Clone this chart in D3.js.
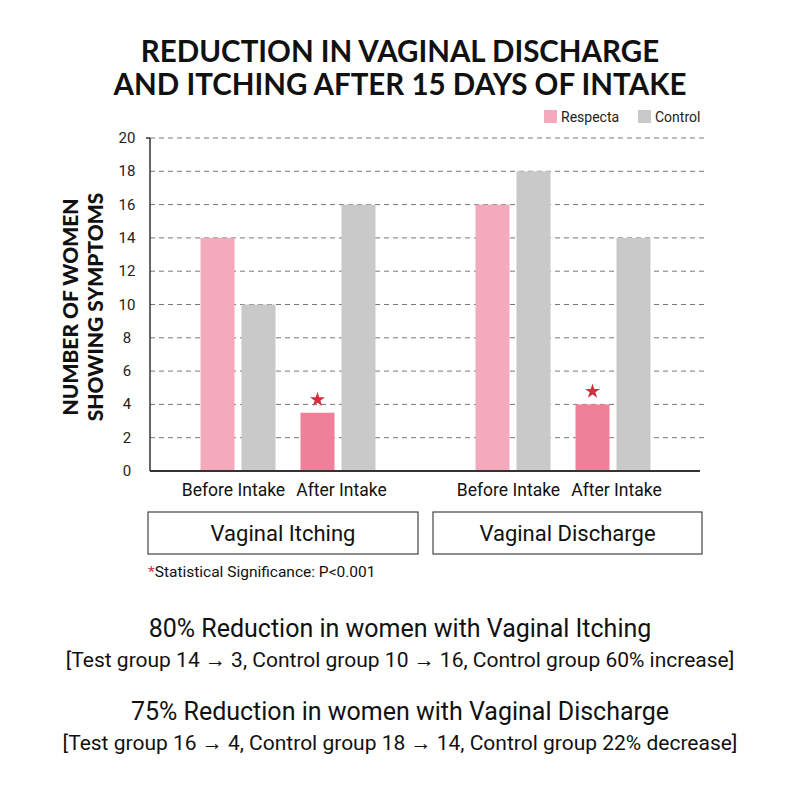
<!DOCTYPE html>
<html>
<head>
<meta charset="utf-8">
<script src="https://cdn.jsdelivr.net/npm/d3@7"></script>
<style>
  body { margin: 0; background: #fff; }
  svg { font-family: Roboto, "Noto Sans", sans-serif; }
</style>
</head>
<body>
<svg id="drawing_region"></svg>
<script>
// chart data
const groups = ["Vaginal Itching", "Vaginal Discharge"];
const periods = ["Before Intake", "After Intake"];
const series = ["Respecta", "Control"];
// values per group, in order [before, after]
const respectaItching = [14, 3.5];
const controlItching = [10, 16];
const respectaDischarge = [16, 4];
const controlDischarge = [18, 14];
const yTicks = [0, 2, 4, 6, 8, 10, 12, 14, 16, 18, 20];
const titleLines = ["REDUCTION IN VAGINAL DISCHARGE", "AND ITCHING AFTER 15 DAYS OF INTAKE"];
const yLabelLines = ["NUMBER OF WOMEN", "SHOWING SYMPTOMS"];
const summaryLines = [
  "80% Reduction in women with Vaginal Itching",
  "[Test group 14 \u2192 3, Control group 10 \u2192 16, Control group 60% increase]",
  "75% Reduction in women with Vaginal Discharge",
  "[Test group 16 \u2192 4, Control group 18 \u2192 14, Control group 22% decrease]"
];

const rows = [];
groups.forEach((g, gi) => {
  const resp = gi === 0 ? respectaItching : respectaDischarge;
  const ctrl = gi === 0 ? controlItching : controlDischarge;
  periods.forEach((p, pi) => {
    rows.push({ group: g, period: p, series: "Respecta", value: resp[pi], after: pi === 1 });
    rows.push({ group: g, period: p, series: "Control", value: ctrl[pi], after: pi === 1 });
  });
});

const width = 800, height = 800;
const svg = d3.select("#drawing_region")
  .attr("width", width)
  .attr("height", height);

const x0 = d3.scaleBand().domain(groups).range([150, 700]);
const x1 = d3.scaleBand().domain(periods).range([38, 238]);
const x2 = d3.scaleBand().domain(series).range([12.5, 87.5]).paddingInner(0.17);
const y = d3.scaleLinear().domain([0, 20]).range([471, 138]);

const color = { Respecta: "#f4a9bd", Control: "#c9c9c9" };
const afterRespecta = "#ef8099";

// title
svg.append("g").selectAll("text")
  .data(titleLines)
  .join("text")
  .attr("x", 400)
  .attr("y", (d, i) => 62 + i * 33)
  .attr("text-anchor", "middle")
  .attr("font-family", "Lato, sans-serif")
  .attr("font-weight", 700)
  .attr("font-size", 29.5)
  .attr("fill", "#111")
  .text(d => d);

// legend
const legend = svg.append("g").attr("transform", "translate(544,110)");
const legendX = [0, 94];
series.forEach((s, i) => {
  legend.append("rect")
    .attr("x", legendX[i]).attr("y", 0)
    .attr("width", 13).attr("height", 13)
    .attr("fill", color[s]);
  legend.append("text")
    .attr("x", legendX[i] + 17).attr("y", 12)
    .attr("font-size", 14)
    .attr("fill", "#222")
    .text(s);
});

// gridlines
svg.append("g").selectAll("line")
  .data(yTicks.filter(t => t > 0))
  .join("line")
  .attr("x1", 150).attr("x2", 706)
  .attr("y1", d => y(d)).attr("y2", d => y(d))
  .attr("stroke", "#777")
  .attr("stroke-width", 1)
  .attr("stroke-dasharray", "5,4");

// tick labels
svg.append("g").selectAll("text")
  .data(yTicks)
  .join("text")
  .attr("x", 127)
  .attr("y", d => y(d) + 5)
  .attr("text-anchor", "middle")
  .attr("font-size", 15)
  .attr("fill", "#222")
  .text(d => d);

// y axis title
const yTitle = svg.append("g").attr("transform", "translate(0,307) rotate(-90)");
yLabelLines.forEach((t, i) => {
  yTitle.append("text")
    .attr("x", 0).attr("y", 78 + i * 25)
    .attr("text-anchor", "middle")
    .attr("font-family", "Lato, sans-serif")
    .attr("font-weight", 900)
    .attr("font-size", 21)
    .attr("fill", "#111")
    .text(t);
});

// bars
const barX = d => x0(d.group) + x1(d.period) + x2(d.series);
svg.append("g").selectAll("rect")
  .data(rows)
  .join("rect")
  .attr("x", barX)
  .attr("y", d => y(d.value))
  .attr("width", x2.bandwidth())
  .attr("height", d => y(0) - y(d.value))
  .attr("fill", d => (d.series === "Respecta" && d.after) ? afterRespecta : color[d.series]);

// significance stars
svg.append("g").selectAll("path")
  .data(rows.filter(d => d.series === "Respecta" && d.after))
  .join("path")
  .attr("d", d3.symbol(d3.symbolStar).size(70))
  .attr("transform", d => `translate(${barX(d) + x2.bandwidth() / 2},${y(d.value) - 13})`)
  .attr("fill", "#d42f3f");

// axes lines
svg.append("line")
  .attr("x1", 150).attr("x2", 150)
  .attr("y1", y(20)).attr("y2", y(0))
  .attr("stroke", "#333").attr("stroke-width", 1.5);
svg.append("line")
  .attr("x1", 146).attr("x2", 150)
  .attr("y1", y(20)).attr("y2", y(20))
  .attr("stroke", "#333").attr("stroke-width", 1.5);
svg.append("line")
  .attr("x1", 150).attr("x2", 700)
  .attr("y1", y(0)).attr("y2", y(0))
  .attr("stroke", "#333").attr("stroke-width", 2);

// period labels (nudged apart a little so they don't touch)
const labelNudge = { "Before Intake": -4.5, "After Intake": 3.5 };
const periodLabels = [];
groups.forEach(g => periods.forEach(p => periodLabels.push({ group: g, period: p })));
svg.append("g").selectAll("text")
  .data(periodLabels)
  .join("text")
  .attr("x", d => x0(d.group) + x1(d.period) + x1.bandwidth() / 2 + labelNudge[d.period])
  .attr("y", 496)
  .attr("text-anchor", "middle")
  .attr("font-size", 17.5)
  .attr("fill", "#111")
  .text(d => d.period);

// group boxes
const boxes = [[148, 418], [433, 702]];
groups.forEach((g, i) => {
  svg.append("rect")
    .attr("x", boxes[i][0]).attr("y", 512)
    .attr("width", boxes[i][1] - boxes[i][0]).attr("height", 42)
    .attr("fill", "none")
    .attr("stroke", "#444").attr("stroke-width", 1.2);
  svg.append("text")
    .attr("x", (boxes[i][0] + boxes[i][1]) / 2).attr("y", 541)
    .attr("text-anchor", "middle")
    .attr("font-size", 22)
    .attr("fill", "#111")
    .text(g);
});

// footnote
const note = svg.append("text")
  .attr("x", 148).attr("y", 577)
  .attr("font-size", 15.5)
  .attr("fill", "#111");
note.append("tspan").attr("fill", "#d42f3f").text("*");
note.append("tspan").text("Statistical Significance: P<0.001");

// summary text
const summaryY = [637, 667, 720, 750];
svg.append("g").selectAll("text")
  .data(summaryLines)
  .join("text")
  .attr("x", 400)
  .attr("y", (d, i) => summaryY[i])
  .attr("text-anchor", "middle")
  .attr("font-size", (d, i) => i % 2 === 0 ? 25 : 21)
  .attr("fill", "#111")
  .text(d => d);
</script>
</body>
</html>
